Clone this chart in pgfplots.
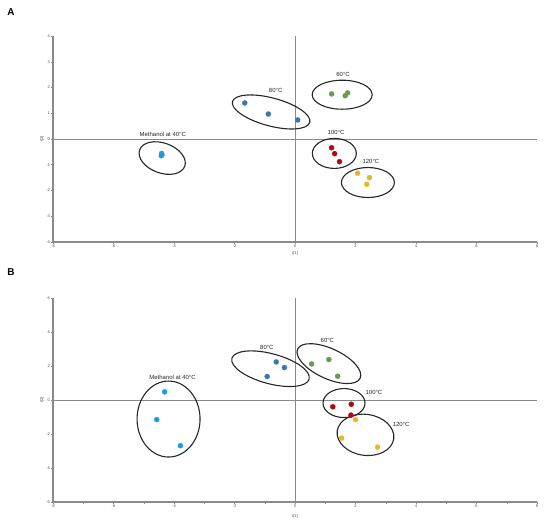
\documentclass[border=0pt]{standalone}
\usepackage{pgfplots}
\pgfplotsset{compat=1.18}
\usepackage{fontspec}
\setmainfont{Liberation Sans}
\usetikzlibrary{shapes.geometric}
\definecolor{cmeth}{HTML}{1E9BE0}
\definecolor{ceighty}{HTML}{3A76B2}
\definecolor{csixty}{HTML}{6A9A4C}
\definecolor{chund}{HTML}{B00A0A}
\definecolor{cotw}{HTML}{E8B822}
\definecolor{caxis}{HTML}{8A8A8A}
\pgfplotsset{
  pcastyle/.style={
    scale only axis, width=484bp, anchor=south west,
    axis lines*=left, axis line style={caxis, line width=1.2bp},
    xmin=-8, xmax=8, xtick={-8,-6,...,8}, minor x tick num=1,
    tick style={caxis, line width=0.5bp}, major tick length=2bp, minor tick length=1.5bp,
    tick align=outside,
    ticklabel style={font=\fontsize{4}{5}\selectfont, text=black!70, inner sep=1bp},
    /pgf/number format/assume math mode=true,
    xlabel={t[1]}, ylabel={t[2]},
    label style={font=\fontsize{4}{5}\selectfont, text=black!70, inner sep=0pt},
    ylabel style={at={(axis description cs:-0.0227,0.5)}, anchor=center},
    clip=false,
    every axis plot/.append style={only marks, mark=*, mark size=2.5bp},
  },
}
\tikzset{
  lbl/.style={font=\fontsize{6}{7}\selectfont, text=black!85},
  ell/.style={draw=black!85, line width=1.1bp, ellipse, inner sep=0pt, fill=none},
}
\begin{document}
\begin{tikzpicture}
\useasboundingbox (0,0) rectangle (550bp,523bp);
\node[anchor=center, font=\bfseries\fontsize{10}{12}\selectfont] at (11bp,511bp) {A};
\node[anchor=center, font=\bfseries\fontsize{10}{12}\selectfont] at (11bp,251bp) {B};
% Panel A
\begin{axis}[pcastyle, at={(53bp,281bp)}, height=206bp,
  ymin=-4, ymax=4, ytick={-4,-3,...,4},
  xlabel style={at={(axis description cs:0.5,-0.058)}, anchor=center}]
\draw[caxis, line width=0.8bp] (axis cs:-8,0) -- (axis cs:8,0);
\draw[caxis, line width=0.8bp] (axis cs:0,-4) -- (axis cs:0,4);
\addplot[cmeth, mark options={fill=cmeth, draw=cmeth}] coordinates {(-4.41,-0.56) (-4.40,-0.62) (-4.42,-0.65)};
\addplot[ceighty, mark options={fill=ceighty, draw=ceighty}] coordinates {(-1.66,1.40) (-0.88,0.97) (0.09,0.74)};
\addplot[csixty, mark options={fill=csixty, draw=csixty}] coordinates {(1.21,1.75) (1.66,1.68) (1.74,1.79)};
\addplot[chund, mark options={fill=chund, draw=chund}] coordinates {(1.21,-0.34) (1.31,-0.57) (1.47,-0.88)};
\addplot[cotw, mark options={fill=cotw, draw=cotw}] coordinates {(2.07,-1.33) (2.46,-1.50) (2.37,-1.76)};
\node[ell, minimum width=48bp, minimum height=30bp, rotate=-20] at (axis cs:-4.39,-0.74) {};
\node[ell, minimum width=80bp, minimum height=28bp, rotate=-15] at (axis cs:-0.79,1.05) {};
\node[ell, minimum width=60bp, minimum height=29bp] at (axis cs:1.56,1.72) {};
\node[ell, minimum width=44bp, minimum height=30bp] at (axis cs:1.30,-0.56) {};
\node[ell, minimum width=53bp, minimum height=30bp] at (axis cs:2.41,-1.69) {};
\node[lbl] at (axis cs:-4.37,0.17) {Methanol at 40°C};
\node[lbl] at (axis cs:-0.64,1.90) {80°C};
\node[lbl] at (axis cs:1.59,2.52) {60°C};
\node[lbl] at (axis cs:1.36,0.24) {100°C};
\node[lbl] at (axis cs:2.51,-0.89) {120°C};
\end{axis}
% Panel B
\begin{axis}[pcastyle, at={(53bp,21bp)}, height=204bp,
  ymin=-6, ymax=6, ytick={-6,-4,...,6}, minor y tick num=1,
  xlabel style={at={(axis description cs:0.5,-0.071)}, anchor=center}]
\draw[caxis, line width=0.8bp] (axis cs:-8,0) -- (axis cs:8,0);
\draw[caxis, line width=0.8bp] (axis cs:0,-6) -- (axis cs:0,6);
\addplot[cmeth, mark options={fill=cmeth, draw=cmeth}] coordinates {(-4.31,0.48) (-4.57,-1.15) (-3.79,-2.69)};
\addplot[ceighty, mark options={fill=ceighty, draw=ceighty}] coordinates {(-0.92,1.38) (-0.62,2.24) (-0.35,1.91)};
\addplot[csixty, mark options={fill=csixty, draw=csixty}] coordinates {(0.55,2.12) (1.12,2.38) (1.41,1.40)};
\addplot[chund, mark options={fill=chund, draw=chund}] coordinates {(1.25,-0.40) (1.86,-0.25) (1.85,-0.89)};
\addplot[cotw, mark options={fill=cotw, draw=cotw}] coordinates {(2.00,-1.15) (1.54,-2.24) (2.73,-2.77)};
\node[ell, minimum width=63bp, minimum height=76bp] at (axis cs:-4.18,-1.12) {};
\node[ell, minimum width=80bp, minimum height=30bp, rotate=-15] at (axis cs:-0.81,1.84) {};
\node[ell, minimum width=69bp, minimum height=30bp, rotate=-25] at (axis cs:1.12,2.14) {};
\node[ell, minimum width=42bp, minimum height=29bp] at (axis cs:1.62,-0.18) {};
\node[ell, minimum width=57bp, minimum height=41bp, rotate=-8] at (axis cs:2.33,-2.05) {};
\node[lbl] at (axis cs:-4.05,1.36) {Methanol at 40°C};
\node[lbl] at (axis cs:-0.93,3.08) {80°C};
\node[lbl] at (axis cs:1.07,3.51) {60°C};
\node[lbl] at (axis cs:2.61,0.46) {100°C};
\node[lbl] at (axis cs:3.51,-1.44) {120°C};
\end{axis}
\end{tikzpicture}
\end{document}
